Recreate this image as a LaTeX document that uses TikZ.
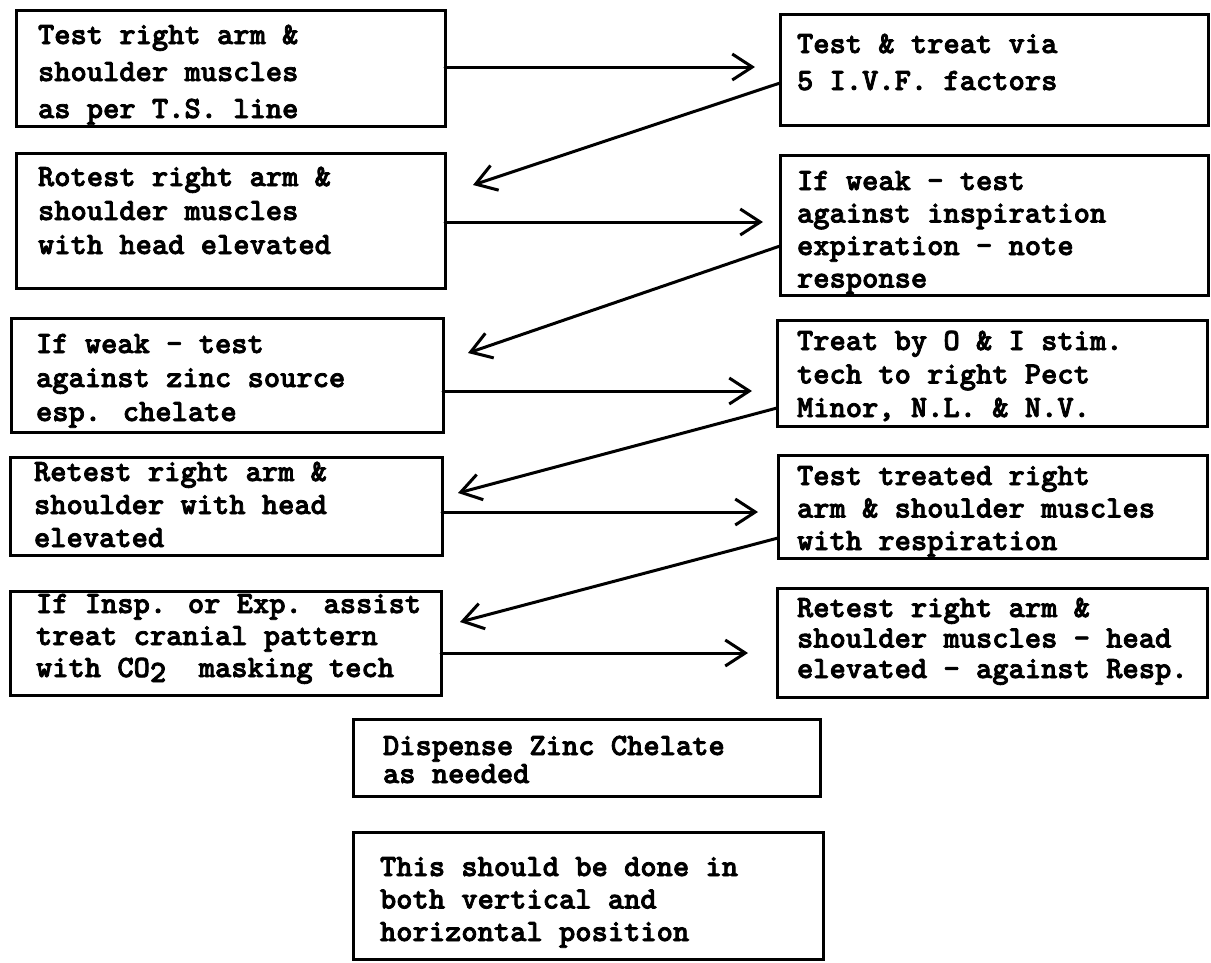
\documentclass[tikz,border=0pt]{standalone}
\usepackage{fontspec}
\usetikzlibrary{arrows.meta,calc}
\newfontfamily\tyf{lmmonolt10-bold.otf}[FakeBold=2.5]
\newcommand\tw{\tyf\fontsize{31}{33}\selectfont}
\newcommand\lns[2]{\vtop{\baselineskip=#1pt\lineskiplimit=-200pt\lineskip=0pt #2}}
\tikzset{
  box/.style={draw, line width=3pt, rectangle, anchor=north west, inner sep=0pt, outer sep=0pt},
  txt/.style={anchor=base west, inner sep=0pt, outer sep=0pt, font=\tw},
  arr/.style={line width=3pt, line cap=round, -{Straight Barb[length=20pt,width=26pt,line width=3pt]}},
}
\begin{document}
\begin{tikzpicture}[x=1pt,y=-1pt]
\useasboundingbox (0,0) rectangle (1211,962);
% left column boxes
\node[box, minimum width=429pt, minimum height=116pt] (L1) at (16,10) {};
\node[box, minimum width=429pt, minimum height=135pt] (L2) at (16,153) {};
\node[box, minimum width=432pt, minimum height=114pt] (L3) at (11,318) {};
\node[box, minimum width=432pt, minimum height=98pt]  (L4) at (10,457) {};
\node[box, minimum width=431pt, minimum height=104pt] (L5) at (10,591) {};
% right column boxes
\node[box, minimum width=428pt, minimum height=111pt] (R1) at (780,14) {};
\node[box, minimum width=428pt, minimum height=140pt] (R2) at (780,155) {};
\node[box, minimum width=430pt, minimum height=106pt] (R3) at (777,320) {};
\node[box, minimum width=429pt, minimum height=103pt] (R4) at (778,455) {};
\node[box, minimum width=430pt, minimum height=109pt] (R5) at (777,588) {};
% bottom boxes
\node[box, minimum width=467pt, minimum height=77pt]  (D) at (353,719) {};
\node[box, minimum width=470pt, minimum height=127pt] (T) at (353,832) {};

% texts
\node[txt] (L1t) at (38,44) {\lns{37}{\hbox{Test right arm \&}\hbox{shoulder muscles}\hbox{as per T.S. line}}};
\node[txt] (L2t) at (38,186) {\lns{34}{\hbox{Rotest right arm \&}\hbox{shoulder muscles}\hbox{with head elevated}}};
\node[txt] (L3t) at (36,353) {\lns{34}{\hbox{If weak - test}\hbox{against zinc source}\hbox{esp. chelate}}};
\node[txt] (L4t) at (34,481) {\lns{33}{\hbox{Retest right arm \&}\hbox{shoulder with head}\hbox{elevated}}};
\node[txt] (L5t) at (36,613) {\lns{32}{\hbox{If Insp. or Exp. assist}\hbox{treat cranial pattern}\hbox{with CO\raisebox{-5pt}{2}\ \ masking tech}}};
\node[txt] (R1t) at (797,53) {\lns{37}{\hbox{Test \& treat via}\hbox{5 I.V.F. factors}}};
\node[txt] (R2t) at (797,190) {\lns{32.5}{\hbox{If weak - test}\hbox{against inspiration}\hbox{expiration - note}\hbox{response}}};
\node[txt] (R3t) at (797,350) {\lns{33.5}{\hbox{Treat by O \& I stim.}\hbox{tech to right Pect}\hbox{Minor, N.L. \& N.V.}}};
\node[txt] (R4t) at (797,485) {\lns{32.5}{\hbox{Test treated right}\hbox{arm \& shoulder muscles}\hbox{with respiration}}};
\node[txt] (R5t) at (797,617) {\lns{30.5}{\hbox{Retest right arm \&}\hbox{shoulder muscles - head}\hbox{elevated - against Resp.}}};
\node[txt] (Dt) at (383,755) {\lns{28}{\hbox{Dispense Zinc Chelate}\hbox{as needed}}};
\node[txt] (Tt) at (380,876) {\lns{32.5}{\hbox{This should be done in}\hbox{both vertical and}\hbox{horizontal position}}};

% connector levels and tips
\coordinate (y1) at (0,67);
\coordinate (y2) at (0,222);
\coordinate (y3) at (0,391);
\coordinate (y4) at (0,512);
\coordinate (y5) at (0,653);
\coordinate (b1) at (0,83);
\coordinate (b2) at (0,246);
\coordinate (b3) at (0,408);
\coordinate (b4) at (0,538);
\coordinate (t1) at (473,185);
\coordinate (t2) at (468,353);
\coordinate (t3) at (458,493);
\coordinate (t4) at (460,622);

% forward arrows
\draw[arr, shorten >=25pt] (L1.east |- y1) -- (R1.west |- y1);
\draw[arr, shorten >=17pt] (L2.east |- y2) -- (R2.west |- y2);
\draw[arr, shorten >=25pt] (L3.east |- y3) -- (R3.west |- y3);
\draw[arr, shorten >=20pt] (L4.east |- y4) -- (R4.west |- y4);
\draw[arr, shorten >=29pt] (L5.east |- y5) -- (R5.west |- y5);
% back arrows
\draw[arr] (R1.west |- b1) -- (t1);
\draw[arr] (R2.west |- b2) -- (t2);
\draw[arr] (R3.west |- b3) -- (t3);
\draw[arr] (R4.west |- b4) -- (t4);
\end{tikzpicture}
\end{document}
